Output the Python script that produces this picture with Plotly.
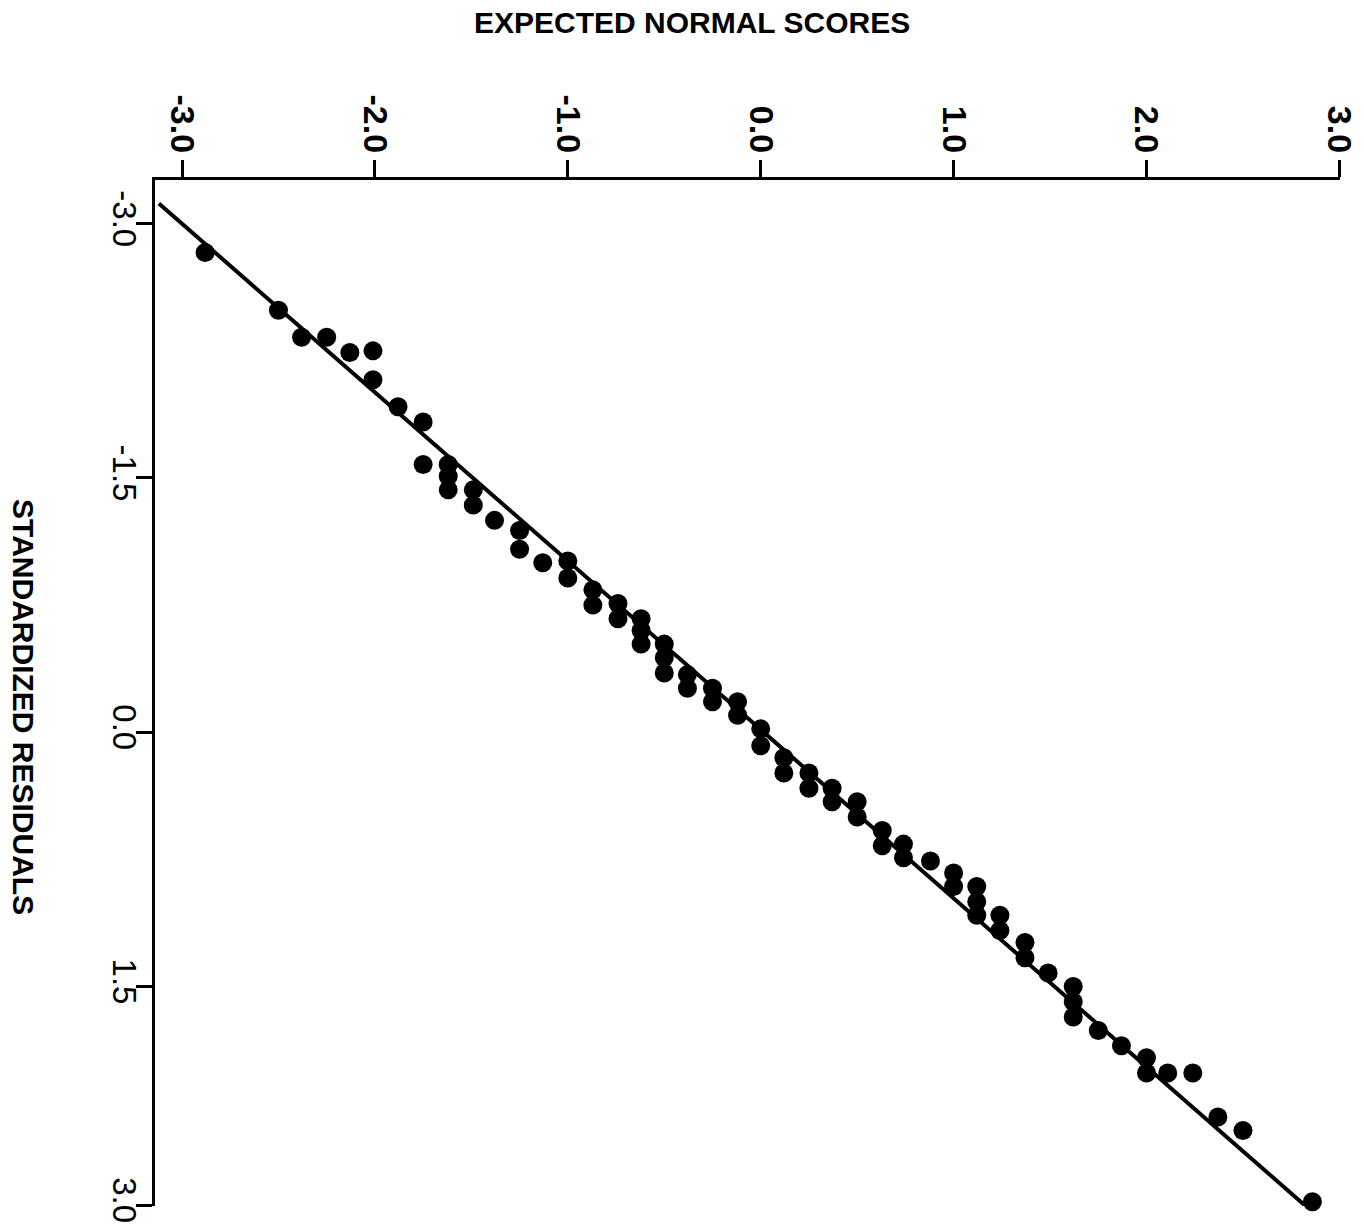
import plotly.graph_objects as go

# Expected normal scores (horizontal axis, top)
normal_scores = [
    -2.88, -2.50, -2.38, -2.25, -2.13, -2.01, -2.01, -1.88, -1.75, -1.75,
    -1.62, -1.62, -1.62, -1.49, -1.49, -1.38, -1.25, -1.25, -1.13, -1.00,
    -1.00, -0.87, -0.87, -0.74, -0.74, -0.62, -0.62, -0.62, -0.50, -0.50,
    -0.50, -0.38, -0.38, -0.25, -0.25, -0.12, -0.12, 0.00, 0.00, 0.12,
    0.12, 0.25, 0.25, 0.37, 0.37, 0.50, 0.50, 0.63, 0.63, 0.74,
    0.74, 0.88, 1.00, 1.00, 1.12, 1.12, 1.12, 1.24, 1.24, 1.37,
    1.37, 1.49, 1.62, 1.62, 1.62, 1.75, 1.87, 2.00, 2.00, 2.11,
    2.24, 2.37, 2.50, 2.86,
]

# Standardized residuals (vertical axis, increasing downward)
residuals = [
    -2.83, -2.49, -2.33, -2.33, -2.24, -2.25, -2.08, -1.92, -1.83, -1.58,
    -1.58, -1.51, -1.43, -1.43, -1.34, -1.25, -1.19, -1.08, -1.00, -1.01,
    -0.91, -0.84, -0.75, -0.76, -0.67, -0.67, -0.60, -0.52, -0.52, -0.44,
    -0.35, -0.34, -0.26, -0.26, -0.18, -0.18, -0.10, -0.02, 0.08, 0.15,
    0.24, 0.24, 0.33, 0.33, 0.41, 0.41, 0.50, 0.58, 0.67, 0.66,
    0.74, 0.76, 0.83, 0.91, 0.91, 1.00, 1.08, 1.08, 1.17, 1.24,
    1.33, 1.42, 1.50, 1.59, 1.68, 1.76, 1.85, 1.92, 2.01, 2.01,
    2.01, 2.27, 2.35, 2.77,
]

# Reference line
fit_x = [-3.12, 2.88]
fit_y = [-3.12, 2.85]

# Tick labels
x_tick_vals = [-3.0, -2.0, -1.0, 0.0, 1.0, 2.0, 3.0]
x_tick_text = ["-3.0", "-2.0", "-1.0", "0.0", "1.0", "2.0", "3.0"]
y_tick_vals = [-3.0, -1.5, 0.0, 1.5, 2.79]
y_tick_text = ["-3.0", "-1.5", "0.0", "1.5", "3.0"]

x_title = "EXPECTED NORMAL SCORES"
y_title = "STANDARDIZED RESIDUALS"

FONT = "Liberation Sans, Arial, Helvetica, sans-serif"

fig = go.Figure()
fig.add_trace(go.Scatter(
    x=fit_x, y=fit_y, mode="lines",
    line=dict(color="black", width=4),
    showlegend=False, hoverinfo="skip", cliponaxis=False,
))
fig.add_trace(go.Scatter(
    x=normal_scores, y=residuals, mode="markers",
    marker=dict(color="black", size=19, line=dict(width=0)),
    showlegend=False, cliponaxis=False,
))

fig.update_layout(
    width=1364, height=1232,
    margin=dict(l=155, r=24, t=180, b=26, autoexpand=False),
    paper_bgcolor="white", plot_bgcolor="white",
    font=dict(family=FONT, color="black"),
    xaxis=dict(
        side="top", range=[-3.14, 3.003], automargin=False,
        tickmode="array", tickvals=x_tick_vals, ticktext=x_tick_text,
        tickangle=90, tickfont=dict(size=34, family=FONT, weight="bold"),
        ticks="outside", ticklen=17, tickwidth=3, tickcolor="black",
        ticklabelstandoff=-5,
        showline=True, linewidth=3, linecolor="black", mirror=False,
        showgrid=False, zeroline=False,
    ),
    yaxis=dict(
        range=[2.795, -3.258], automargin=False,
        tickmode="array", tickvals=y_tick_vals, ticktext=y_tick_text,
        tickangle=90, tickfont=dict(size=33, family=FONT),
        ticks="outside", ticklen=16, tickwidth=3, tickcolor="black",
        ticklabelstandoff=-17,
        showline=True, linewidth=3, linecolor="black", mirror=False,
        showgrid=False, zeroline=False,
    ),
    annotations=[
        dict(text=x_title, xref="paper", yref="paper", x=0.4532, y=1.1535,
             showarrow=False, xanchor="center", yanchor="middle",
             font=dict(size=30, family=FONT, weight="bold", color="black")),
        dict(text=y_title, xref="paper", yref="paper", x=-0.1115, y=0.4864,
             showarrow=False, xanchor="center", yanchor="middle", textangle=90,
             font=dict(size=30, family=FONT, weight="bold", color="black")),
    ],
)

fig.write_html(
    "out.html",
    config={"displayModeBar": False},
    post_script="document.body.style.margin='0';document.body.style.overflow='hidden';",
)
